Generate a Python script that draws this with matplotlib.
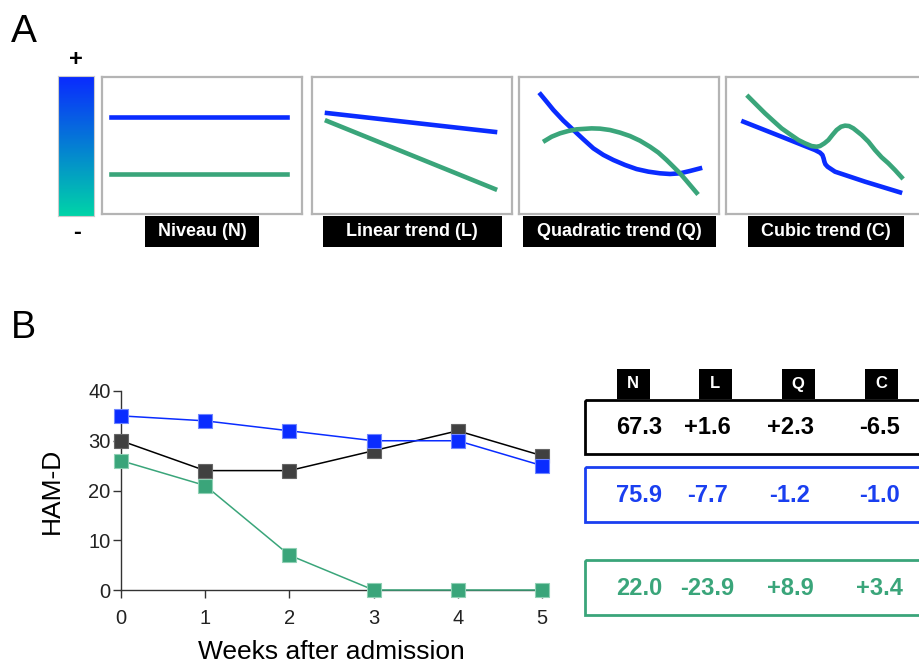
import numpy as np
import matplotlib
matplotlib.use("Agg")
import matplotlib.pyplot as plt
from matplotlib.patches import Rectangle

plt.rcParams['font.family'] = ['Liberation Sans', 'DejaVu Sans']

W, H = 919, 666
BLUE = "#0a2cff"
GREEN = "#3aa57a"
DARK = "#404040"

# ---- data, panel B ----
weeks = [0, 1, 2, 3, 4, 5]
ham_black = [30, 24, 24, 28, 32, 27]
ham_blue = [35, 34, 32, 30, 30, 25]
ham_green = [26, 21, 7, 0, 0, 0]

coef_names = ["N", "L", "Q", "C"]
coef_black = ["67.3", "+1.6", "+2.3", "-6.5"]
coef_blue = ["75.9", "-7.7", "-1.2", "-1.0"]
coef_green = ["22.0", "-23.9", "+8.9", "+3.4"]

# ---- data, panel A (schematic curves, box-normalised coords) ----
trend_titles = ["Niveau (N)", "Linear trend (L)", "Quadratic trend (Q)", "Cubic trend (C)"]
niv_blue_x = [0.045, 0.925]
niv_blue_y = [0.708, 0.708]
niv_green_x = [0.045, 0.925]
niv_green_y = [0.292, 0.292]
lin_blue_x = [0.075, 0.915]
lin_blue_y = [0.737, 0.599]
lin_green_x = [0.075, 0.915]
lin_green_y = [0.679, 0.182]
quad_blue_x = [0.108, 0.138, 0.172, 0.222, 0.272, 0.322, 0.372, 0.422, 0.472, 0.53,
               0.588, 0.647, 0.705, 0.755, 0.805, 0.855, 0.905]
quad_blue_y = [0.873, 0.820, 0.759, 0.681, 0.613, 0.545, 0.479, 0.431, 0.394, 0.358,
               0.328, 0.309, 0.297, 0.292, 0.297, 0.314, 0.333]
quad_green_x = [0.13, 0.163, 0.205, 0.247, 0.288, 0.363, 0.405, 0.455, 0.505, 0.555,
                0.605, 0.655, 0.697, 0.738, 0.772, 0.805, 0.83, 0.855, 0.888]
quad_green_y = [0.535, 0.564, 0.589, 0.606, 0.618, 0.625, 0.623, 0.613, 0.594, 0.569,
                0.535, 0.491, 0.448, 0.394, 0.345, 0.297, 0.255, 0.212, 0.155]
cub_blue_x = [0.087, 0.278, 0.445, 0.47, 0.482, 0.488, 0.492, 0.497, 0.508, 0.545, 0.695, 0.87]
cub_blue_y = [0.674, 0.564, 0.467, 0.448, 0.431, 0.406, 0.382, 0.363, 0.345, 0.309, 0.236, 0.158]
cub_green_x = [0.112, 0.153, 0.195, 0.237, 0.278, 0.32, 0.362, 0.395, 0.428, 0.453, 0.47,
               0.492, 0.512, 0.532, 0.553, 0.575, 0.595, 0.615, 0.637, 0.678, 0.712,
               0.745, 0.778, 0.812, 0.845, 0.878]
cub_green_y = [0.856, 0.796, 0.735, 0.679, 0.625, 0.582, 0.540, 0.516, 0.496, 0.491, 0.496,
               0.516, 0.540, 0.577, 0.613, 0.637, 0.645, 0.642, 0.625, 0.577, 0.528,
               0.467, 0.414, 0.370, 0.321, 0.268]

curves = [
    (niv_blue_x, niv_blue_y, niv_green_x, niv_green_y),
    (lin_blue_x, lin_blue_y, lin_green_x, lin_green_y),
    (quad_blue_x, quad_blue_y, quad_green_x, quad_green_y),
    (cub_blue_x, cub_blue_y, cub_green_x, cub_green_y),
]

grad_top = (10, 42, 255)
grad_bottom = (0, 212, 168)


def px_axes(fig, x0, y0, x1, y1):
    # axes from pixel box (top-left origin)
    return fig.add_axes([x0 / W, 1 - y1 / H, (x1 - x0) / W, (y1 - y0) / H])


fig = plt.figure(figsize=(W / 100, H / 100), dpi=100)

# overlay in pixel coords for labels / boxes
ov = fig.add_axes([0, 0, 1, 1], zorder=5)
ov.set_xlim(0, W)
ov.set_ylim(H, 0)
ov.axis("off")
ov.patch.set_alpha(0)

ov.text(11, 42, "A", fontsize=28, va="baseline", ha="left")
ov.text(11, 338, "B", fontsize=27, va="baseline", ha="left")

# ===== Panel A =====
# colour gradient bar
cax = px_axes(fig, 58, 76, 94, 216)
t = np.linspace(0, 1, 200)[:, None, None]
grad = (1 - t) * np.array(grad_top) / 255 + t * np.array(grad_bottom) / 255
cax.imshow(grad, aspect="auto")
cax.set_xticks([])
cax.set_yticks([])
for s in cax.spines.values():
    s.set_color("#cccccc")
    s.set_linewidth(0.8)
ov.text(76, 59, "+", fontsize=17, fontweight="bold", ha="center", va="center")
ov.text(77, 232, "-", fontsize=17, fontweight="bold", ha="center", va="center")

box_left = [102, 312, 519, 726]
box_w = 200
label_w = [114, 179, 193, 156]
for i in range(4):
    x0 = box_left[i]
    ax = px_axes(fig, x0, 77, x0 + box_w, 214)
    ax.set_xlim(0, 1)
    ax.set_ylim(0, 1)
    ax.set_xticks([])
    ax.set_yticks([])
    for s in ax.spines.values():
        s.set_color("#b4b4b4")
        s.set_linewidth(1.6)
    bx, by, gx, gy = curves[i]
    ax.plot(bx, by, color=BLUE, lw=3.3, solid_joinstyle="round")
    ax.plot(gx, gy, color=GREEN, lw=3.3, solid_joinstyle="round")
    cx = x0 + box_w / 2
    ov.add_patch(Rectangle((cx - label_w[i] / 2, 216), label_w[i], 31,
                           facecolor="black", edgecolor="none"))
    ov.text(cx, 232, trend_titles[i], color="white", fontsize=13,
            fontweight="bold", ha="center", va="center")

# ===== Panel B =====
ax = px_axes(fig, 121, 391, 542, 590)
ax.plot(weeks, ham_black, color="black", lw=1.1, marker="s", ms=9.5,
        mfc=DARK, mec="#666666", mew=0.8, clip_on=False, zorder=3)
ax.plot(weeks, ham_blue, color=BLUE, lw=1.1, marker="s", ms=9.5,
        mfc=BLUE, mec="#6f86ff", mew=0.8, clip_on=False, zorder=3)
ax.plot(weeks, ham_green, color=GREEN, lw=1.1, marker="s", ms=9.5,
        mfc=GREEN, mec="#8fd0b4", mew=0.8, clip_on=False, zorder=3)
ax.set_xlim(0, 5)
ax.set_ylim(0, 40)
ax.set_xticks(weeks)
ax.set_yticks([0, 10, 20, 30, 40])
ax.spines["top"].set_visible(False)
ax.spines["right"].set_visible(False)
for s in ("left", "bottom"):
    ax.spines[s].set_color("#333333")
    ax.spines[s].set_linewidth(1.0)
ax.tick_params(length=5.5, width=1.0, color="#333333", labelsize=14.5,
               labelcolor="#222222", pad=2)
ax.tick_params(axis="x", pad=8)
ax.set_xlabel("Weeks after admission", fontsize=19, labelpad=9)
ax.set_ylabel("HAM-D", fontsize=19, va="center")
ax.yaxis.set_label_coords(-0.164, 0.5)

# coefficient table
col_hdr = [633, 715, 798, 881]
col_val = [639, 707, 790, 879]
for name, cx in zip(coef_names, col_hdr):
    ov.add_patch(Rectangle((cx - 16.5, 369), 33, 30, facecolor="black", edgecolor="none"))
    ov.text(cx, 384, name, color="white", fontsize=12, fontweight="bold",
            ha="center", va="center")

rows = [(coef_black, "black", 400, 454),
        (coef_blue, "#1a3ff0", 467, 522),
        (coef_green, GREEN, 560, 615)]
for vals, col, y0, y1 in rows:
    ov.add_patch(Rectangle((585, y0), 400, y1 - y0, facecolor="none",
                           edgecolor=col, lw=2.0))
    for v, cx in zip(vals, col_val):
        ov.text(cx, (y0 + y1) / 2 + 1, v, color=col, fontsize=17,
                fontweight="bold", ha="center", va="center")

fig.savefig("out.png", dpi=100)
